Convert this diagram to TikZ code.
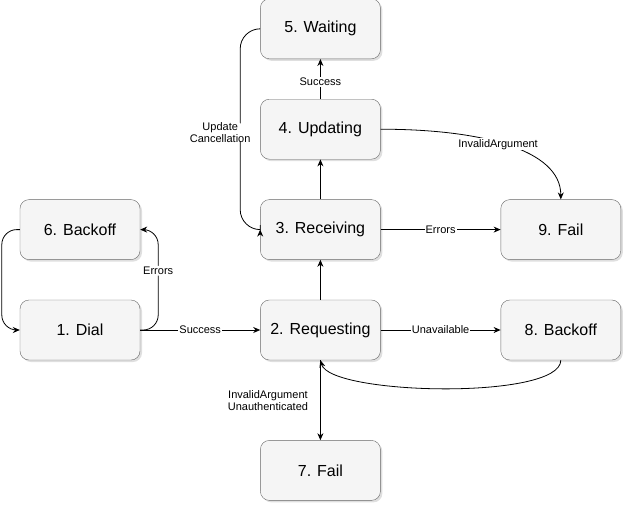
\documentclass[tikz,border=0pt]{standalone}
\usepackage{fontspec}
\setmainfont{Liberation Sans}
\usetikzlibrary{positioning,arrows.meta,shadows}
\definecolor{boxfill}{HTML}{F5F5F5}
\definecolor{boxline}{HTML}{666666}

\begin{document}
\begin{tikzpicture}[
    x=1pt, y=-1pt,
    node distance=40pt and 120pt,
    statestyle/.style={draw=boxline, fill=boxfill, rounded corners=9pt, minimum height=60pt, minimum width=120pt, font=\fontsize{16}{19}\selectfont, drop shadow={shadow xshift=2pt, shadow yshift=-2pt, opacity=0.25}},
    lblstyle/.style={fill=white, inner sep=1pt, font=\fontsize{11}{12}\selectfont, align=center},
    pathstyle/.style={-{Stealth[length=7pt,width=6pt]}, line width=0.8pt}
  ]
    \useasboundingbox (0,0) rectangle (623,504);
    \node[statestyle] (DIAL) at (80,330)
      {1. Dial};
    \node[statestyle, above=of DIAL] (BACKOFF6)
      {6. Backoff};
    \node[statestyle, right=of DIAL] (REQ)
      {2. Requesting};
    \node[statestyle, above=of REQ] (RECV)
      {3. Receiving};
    \node[statestyle, above=of RECV] (UPD)
      {4. Updating};
    \node[statestyle, above=of UPD] (WAIT)
      {5. Waiting};
    \node[statestyle, below=80pt of REQ] (FAIL7)
      {7. Fail};
    \node[statestyle, right=of REQ] (BACKOFF8)
      {8. Backoff};
    \node[statestyle, right=of RECV] (FAIL9)
      {9. Fail};

    \draw[pathstyle, rounded corners=15pt] (DIAL.east) -- ++(18,0) |- (BACKOFF6.east) node[lblstyle, pos=0.25, yshift=9pt] {Errors};
    \draw[pathstyle, rounded corners=15pt] (BACKOFF6.west) -- ++(-18,0) |- (DIAL.west);
    \draw[pathstyle] (DIAL) -- (REQ) node[lblstyle, midway] {Success};
    \draw[pathstyle] (REQ) -- (RECV);
    \draw[pathstyle] (RECV) -- (UPD);
    \draw[pathstyle] (UPD) -- (WAIT) node[lblstyle, midway, yshift=-3pt] {Success};
    \draw[pathstyle, rounded corners=20pt] (WAIT.west) -- ++(-20,0) |- (RECV.west) node[lblstyle, pos=0.25, xshift=-20pt, yshift=-3pt] {Update\\Cancellation};
    \draw[pathstyle] (UPD.east) .. controls +(100,0) and +(0,-50) .. (FAIL9.north) node[lblstyle, pos=0.45, yshift=-2pt] {InvalidArgument};
    \draw[pathstyle] (RECV) -- (FAIL9) node[lblstyle, midway] {Errors};
    \draw[pathstyle] (REQ) -- (BACKOFF8) node[lblstyle, midway] {Unavailable};
    \draw[pathstyle] (BACKOFF8.south) .. controls +(0,40) and +(10,35) .. (REQ.south);
    \draw[pathstyle] (REQ) -- (FAIL7) node[lblstyle, midway, left, xshift=-11pt] {InvalidArgument\\Unauthenticated};
  \end{tikzpicture}
\end{document}
